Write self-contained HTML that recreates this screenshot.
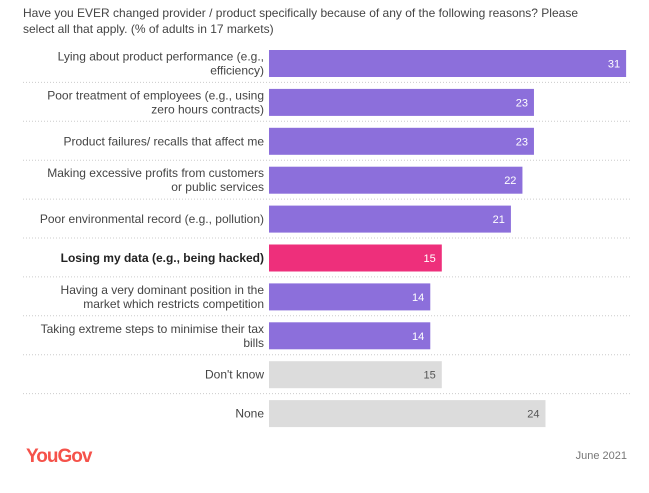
<!DOCTYPE html>
<html><head><meta charset="utf-8">
<style>
body{margin:0;background:#fff;width:649px;height:488px;overflow:hidden;font-family:"Liberation Sans",sans-serif;}
</style></head>
<body>
<svg id="chart" width="649" height="488" xmlns="http://www.w3.org/2000/svg">
<text x="23" y="17" font-size="12" fill="#444">Have you EVER changed provider / product specifically because of any of the following reasons? Please</text>
<text x="23" y="33" font-size="12" fill="#444">select all that apply. (% of adults in 17 markets)</text>
<g id="rows"></g>
<text x="26" y="462" font-size="19" font-weight="bold" fill="#f5524a" letter-spacing="-1">YouGov</text>
<text x="627" y="459" font-size="11" fill="#777" text-anchor="end">June 2021</text>
</svg>
<script>
const labels = [
  ["Lying about product performance (e.g.,","efficiency)"],
  ["Poor treatment of employees (e.g., using","zero hours contracts)"],
  ["Product failures/ recalls that affect me"],
  ["Making excessive profits from customers","or public services"],
  ["Poor environmental record (e.g., pollution)"],
  ["Losing my data (e.g., being hacked)"],
  ["Having a very dominant position in the","market which restricts competition"],
  ["Taking extreme steps to minimise their tax","bills"],
  ["Don't know"],
  ["None"]
];
const values = [31,23,23,22,21,15,14,14,15,24];
const kinds = ["p","p","p","p","p","h","p","p","g","g"];

const X0 = 269, PX = 11.52, TOP = 50, PITCH = 38.9, BH = 27;
const xs = v => X0 + v * PX;
const ys = i => TOP + i * PITCH;
const colors = {p:"#8c6fdb", h:"#ee2f7b", g:"#dcdcdc"};
const ns = "http://www.w3.org/2000/svg";
const g = document.getElementById("rows");
function mk(tag, attrs){const e=document.createElementNS(ns,tag);for(const k in attrs)e.setAttribute(k,attrs[k]);g.appendChild(e);return e;}
values.forEach((v,i)=>{
  const y = ys(i);
  if(i>0){
    const l = mk("line",{x1:23,x2:630,y1:y-6.5,y2:y-6.5,stroke:"#ccc","stroke-width":1,"stroke-dasharray":"1,2"});
    
    
  }
  const r = mk("rect",{x:X0,y:y,width:xs(v)-X0,height:BH,fill:colors[kinds[i]]});
  
  
  const t = mk("text",{x:xs(v)-6,y:y+BH/2+4,"font-size":11,"text-anchor":"end",fill:kinds[i]==="g"?"#555":"#fff"});
  t.textContent = v;
  
  
  const lines = labels[i];
  lines.forEach((s,j)=>{
    const off = lines.length===1 ? 4 : (j===0 ? -3 : 11);
    const lt = mk("text",{x:264,y:y+BH/2+off,"font-size":12,"text-anchor":"end",fill:kinds[i]==="h"?"#222":"#444","font-weight":kinds[i]==="h"?"bold":"normal"});
    lt.textContent = s;
    
    
  });
});
</script>
</body></html>
